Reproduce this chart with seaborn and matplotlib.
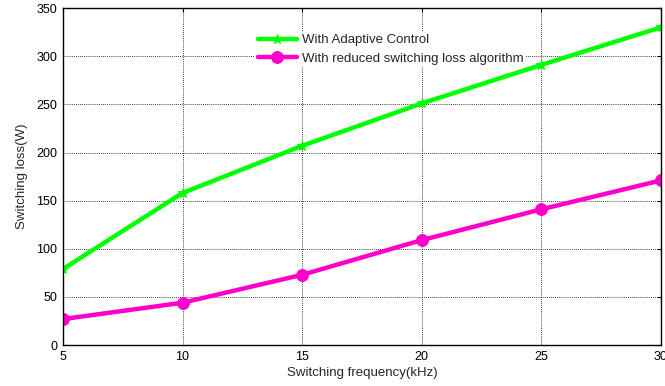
import matplotlib
matplotlib.use("Agg")
import matplotlib.pyplot as plt
import seaborn as sns
import pandas as pd

freq_khz = [5, 10, 15, 20, 25, 30]
loss_adaptive = [79, 158, 207, 251, 291, 330]
loss_reduced = [27, 44, 73, 109, 141, 171]
series_names = ["With Adaptive Control", "With reduced switching loss algorithm"]

sns.set_style("white")
plt.rcParams["font.family"] = ["Liberation Sans", "DejaVu Sans"]

df = pd.DataFrame({
    "freq": freq_khz * 2,
    "loss": loss_adaptive + loss_reduced,
    "series": [series_names[0]] * len(freq_khz) + [series_names[1]] * len(freq_khz),
})

fig = plt.figure(figsize=(6.65, 3.86), dpi=100)
ax = fig.add_axes([0.0947, 0.106, 0.899, 0.873])

palette = {series_names[0]: "#00ff00", series_names[1]: "#ff00cc"}
markers = {series_names[0]: "*", series_names[1]: "o"}
sizes = {series_names[0]: 7, series_names[1]: 8.5}

for name in series_names:
    sub = df[df["series"] == name]
    sns.lineplot(data=sub, x="freq", y="loss", ax=ax, color=palette[name],
                 marker=markers[name], markersize=sizes[name],
                 markeredgecolor=palette[name], linewidth=3.2, label=name)

ax.set_xlim(5, 30)
ax.set_ylim(0, 350)
ax.set_xticks(freq_khz)
ax.set_yticks(range(0, 351, 50))
ax.grid(True, color="black", linestyle=(0, (1, 1.5)), linewidth=0.6)
ax.tick_params(direction="in", length=3, labelsize=9, colors="black",
               top=True, right=True, pad=4)
for s in ax.spines.values():
    s.set_color("black")
    s.set_linewidth(1.0)

ax.set_xlabel("Switching frequency(kHz)", fontsize=9.5, labelpad=3)
ax.set_ylabel("Switching loss(W)", fontsize=9.5, labelpad=6)

leg = ax.legend(loc="upper left", bbox_to_anchor=(0.31, 0.95), frameon=True,
                fontsize=9.5, handlelength=3.0, handletextpad=0.35,
                borderpad=0.2, labelspacing=0.45)
leg.get_frame().set_facecolor("white")
leg.get_frame().set_edgecolor("none")
leg.get_frame().set_alpha(1.0)

fig.savefig("out.png", dpi=100)
